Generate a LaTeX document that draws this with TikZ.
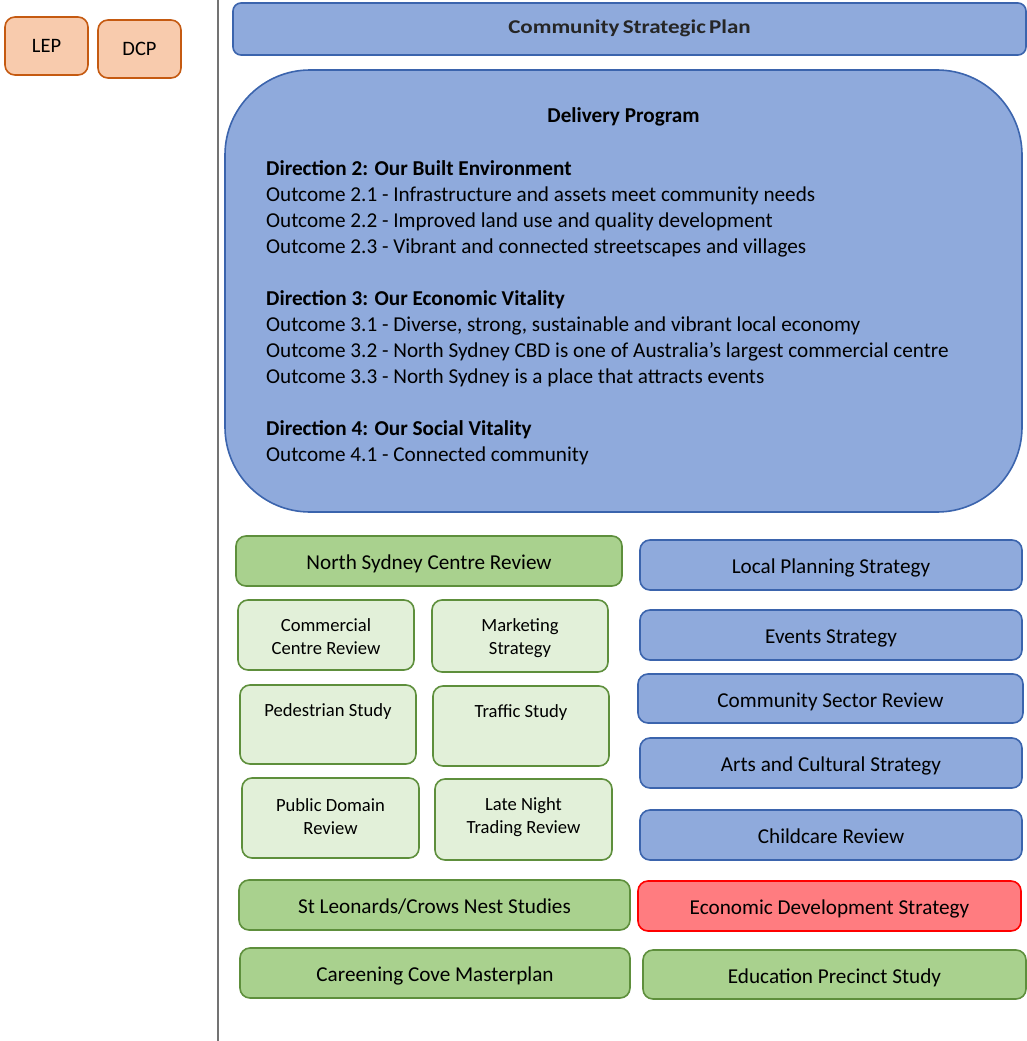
\documentclass[tikz,border=0pt]{standalone}
\usepackage{fontspec}
\setmainfont{Carlito}
\definecolor{bfill}{HTML}{8FAADC}
\definecolor{bline}{HTML}{3B64AD}
\definecolor{gfill}{HTML}{A9D18E}
\definecolor{gline}{HTML}{5E8F3C}
\definecolor{lgfill}{HTML}{E2F0D9}
\definecolor{ofill}{HTML}{F8CBAD}
\definecolor{oline}{HTML}{C55A11}
\definecolor{rfill}{HTML}{FF7C80}
\definecolor{rline}{HTML}{FF0000}
\begin{document}
\begin{tikzpicture}[x=1pt,y=-1pt,
  base/.style={rounded corners=10pt, line width=1.6pt, inner sep=0pt, align=center},
  one/.style={text height=18pt, text depth=1pt},
  orangebox/.style={base, fill=ofill, draw=oline, font=\fontsize{20.5}{24}\selectfont},
  bluebox/.style={base, one, fill=bfill, draw=bline, font=\fontsize{21.2}{25}\selectfont},
  greenbox/.style={base, one, fill=gfill, draw=gline, font=\fontsize{21.2}{25}\selectfont},
  lgbox/.style={base, fill=lgfill, draw=gline},
  redbox/.style={base, one, fill=rfill, draw=rline, font=\fontsize{21.2}{25}\selectfont},
  lbl/.style={inner sep=0pt, align=center, font=\fontsize{18.6}{23}\selectfont}
]
\useasboundingbox (0,0) rectangle (1026,1041);

% left
\node[orangebox, minimum width=83pt, minimum height=58pt] (lep) at (46.5,46) {LEP};
\node[orangebox, minimum width=83pt, minimum height=58pt] (dcp) at (139.5,49) {DCP};
\coordinate (vtop) at (218,0);
\coordinate (vbot) at (218,1041);
\draw[line width=1.4pt, color=gray!90!black] (vtop) -- (vbot);

% top
\node[base, fill=bfill, draw=bline, minimum width=793pt, minimum height=52pt, rounded corners=8pt,
      text height=13pt, text depth=4pt,
      font=\bfseries\fontsize{19.5}{22}\selectfont] (csp) at (629.5,29)
      {\addfontfeature{FakeStretch=1.18}\textcolor{black!85}{Community\,Strategic\,Plan}};

\node[base, fill=bfill, draw=bline, rounded corners=85pt,
      minimum width=797pt, minimum height=442pt] (dp) at (623.5,291) {};
\node[inner sep=0pt, font=\bfseries\fontsize{21.2}{25}\selectfont] (dptitle) at (623.5,117) {Delivery Program};
\node[inner sep=0pt, anchor=north west, align=left, font=\fontsize{21.2}{26}\selectfont] (dptext) at (266,160)
{\textbf{Direction 2: Our Built Environment}\\
Outcome 2.1 - Infrastructure and assets meet community needs\\
Outcome 2.2 - Improved land use and quality development\\
Outcome 2.3 - Vibrant and connected streetscapes and villages\\[26pt]
\textbf{Direction 3: Our Economic Vitality}\\
Outcome 3.1 - Diverse, strong, sustainable and vibrant local economy\\
Outcome 3.2 - North Sydney CBD is one of Australia’s largest commercial centre\\
Outcome 3.3 - North Sydney is a place that attracts events\\[26pt]
\textbf{Direction 4: Our Social Vitality}\\
Outcome 4.1 - Connected community};

% left green column
\node[greenbox, minimum width=386pt, minimum height=50pt] (nscr) at (429,561) {North Sydney Centre Review};
\node[lgbox, minimum width=176pt, minimum height=70pt] (ccr) at (326,635) {};
\node[lbl] (ccrt) at (326,637) {Commercial\\Centre Review};
\node[lgbox, minimum width=176pt, minimum height=72pt] (ms) at (520,636) {};
\node[lbl] (mst) at (520,638) {Marketing\\Strategy};
\node[lgbox, minimum width=176pt, minimum height=79pt] (ps) at (328,724.5) {};
\node[lbl] (pst) at (328,712) {Pedestrian Study};
\node[lgbox, minimum width=176pt, minimum height=80pt] (ts) at (521,726) {};
\node[lbl] (tst) at (521,713) {Traffic Study};
\node[lgbox, minimum width=177pt, minimum height=80pt] (pdr) at (330.5,818) {};
\node[lbl] (pdrt) at (330.5,816.5) {Public Domain\\Review};
\node[lgbox, minimum width=177pt, minimum height=81pt] (lntr) at (523.5,819.5) {};
\node[lbl] (lntrt) at (523.5,817.5) {Late Night\\Trading Review};
\node[greenbox, minimum width=391pt, minimum height=50pt] (sl) at (434.5,905) {St Leonards/Crows Nest Studies};
\node[greenbox, minimum width=390pt, minimum height=50pt] (ccm) at (435,973) {Careening Cove Masterplan};

% right column
\node[bluebox, minimum width=382pt, minimum height=50pt] (lps) at (831,565) {Local Planning Strategy};
\node[bluebox, minimum width=382pt, minimum height=50pt] (es) at (831,635) {Events Strategy};
\node[bluebox, minimum width=385pt, minimum height=49pt] (csr) at (830.5,698.5) {Community Sector Review};
\node[bluebox, minimum width=382pt, minimum height=50pt] (acs) at (831,763) {Arts and Cultural Strategy};
\node[bluebox, minimum width=382pt, minimum height=50pt] (cr) at (831,835) {Childcare Review};
\node[redbox, minimum width=383pt, minimum height=50pt] (eds) at (829.5,906) {Economic Development Strategy};
\node[greenbox, minimum width=383pt, minimum height=49pt] (eps) at (834.5,974.5) {Education Precinct Study};
\end{tikzpicture}
\end{document}
